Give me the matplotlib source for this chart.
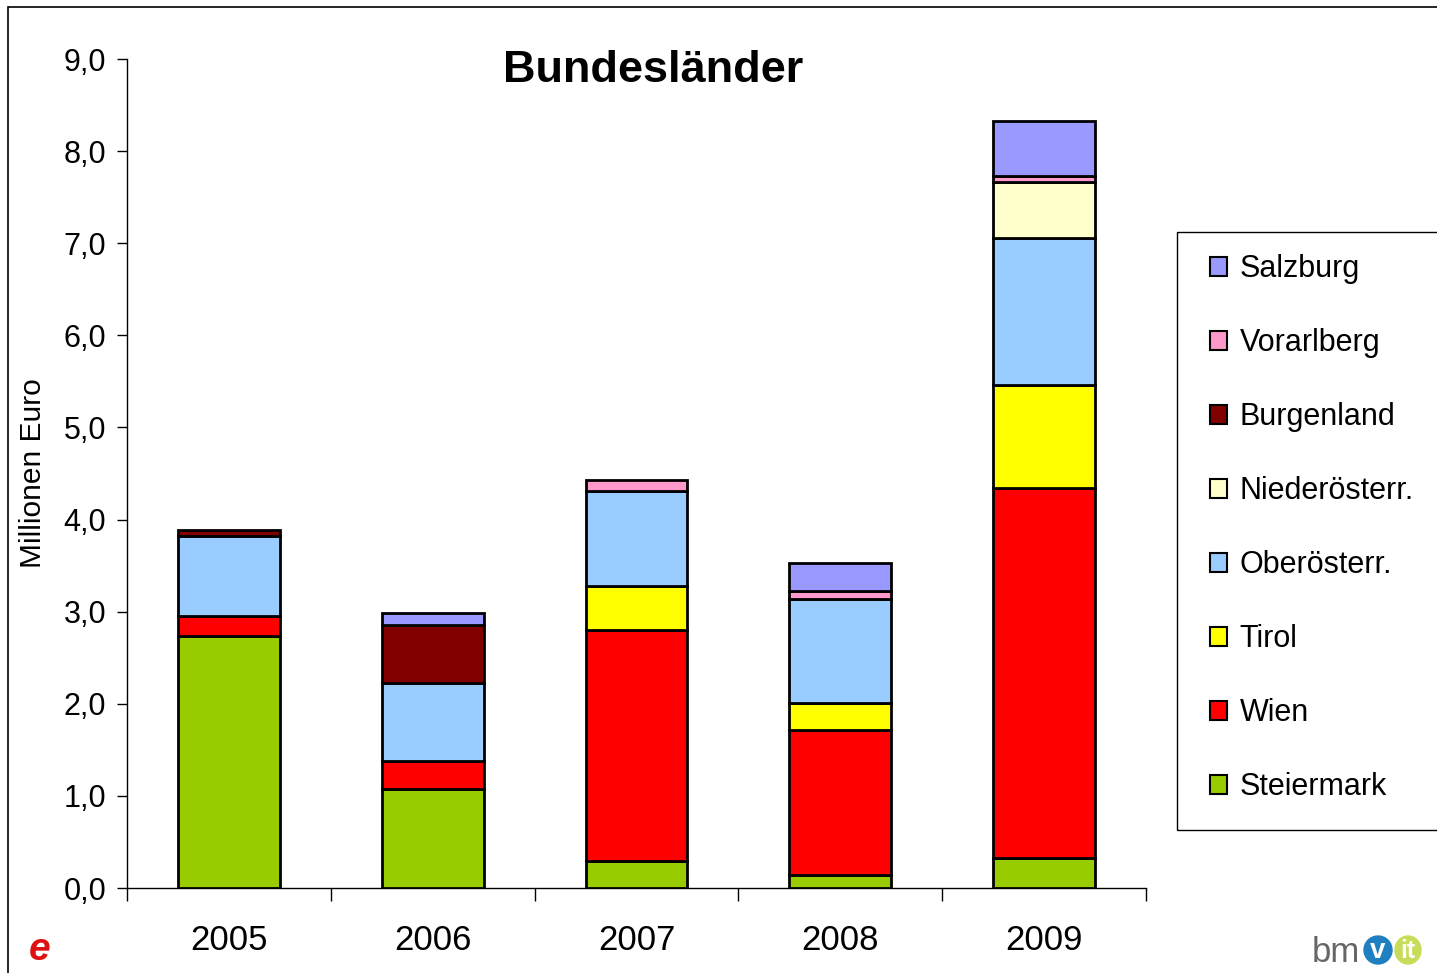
import matplotlib.pyplot as plt
from matplotlib.patches import Rectangle, Patch, Ellipse
import numpy as np

plt.rcParams['font.family'] = ['Liberation Sans', 'DejaVu Sans']

# --- data (Millionen Euro) ---
years = ['2005', '2006', '2007', '2008', '2009']
series = ['Steiermark', 'Wien', 'Tirol', 'Oberösterr.', 'Niederösterr.',
          'Burgenland', 'Vorarlberg', 'Salzburg']
steiermark = [2.74, 1.07, 0.29, 0.14, 0.33]
wien = [0.21, 0.31, 2.51, 1.58, 4.01]
tirol = [0.00, 0.00, 0.48, 0.29, 1.12]
oberoesterr = [0.87, 0.85, 1.03, 1.13, 1.60]
niederoesterr = [0.00, 0.00, 0.00, 0.00, 0.61]
burgenland = [0.07, 0.63, 0.00, 0.00, 0.00]
vorarlberg = [0.00, 0.00, 0.12, 0.08, 0.06]
salzburg = [0.00, 0.13, 0.00, 0.31, 0.60]
colors = ['#99CC00', '#FF0000', '#FFFF00', '#99CCFF', '#FFFFCC',
          '#800000', '#FF99CC', '#9999FF']

values = [steiermark, wien, tirol, oberoesterr, niederoesterr,
          burgenland, vorarlberg, salzburg]

fig = plt.figure(figsize=(14.37, 9.73), dpi=100)
ax = fig.add_axes([127 / 1437, 85 / 973, 1019 / 1437, 829 / 973])

x = np.arange(len(years))
bottom = np.zeros(len(years))
for name, vals, col in zip(series, values, colors):
    vals = np.array(vals)
    mask = vals > 0
    ax.bar(x[mask], vals[mask], width=0.5, bottom=bottom[mask], color=col,
           edgecolor='black', linewidth=2, label=name, zorder=3)
    bottom += vals

ax.set_xlim(-0.5, 4.5)
ax.set_ylim(0, 9)
ax.set_yticks(np.arange(0, 10, 1))
ax.set_yticklabels([f'{v:.1f}'.replace('.', ',') for v in np.arange(0, 10, 1)],
                   fontsize=22)
ax.set_xticks(np.arange(-0.5, 5, 1))
ax.set_xticklabels([])
ax.set_xticks(x, minor=True)
ax.set_xticklabels(years, minor=True, fontsize=25)
ax.tick_params(axis='x', which='minor', length=0, pad=26)
ax.tick_params(axis='x', which='major', length=9, width=1, direction='out')
ax.tick_params(axis='y', length=7, width=1, direction='out', pad=8)
ax.spines['top'].set_visible(False)
ax.spines['right'].set_visible(False)
ax.spines['left'].set_linewidth(1)
ax.spines['bottom'].set_linewidth(1)
ax.set_ylabel('Millionen Euro', fontsize=21.5, labelpad=12)

fig.text(653 / 1437, 1 - 71 / 973, 'Bundesländer', fontsize=32.5,
         fontweight='bold', ha='center', va='center')

# legend box (extends past the right edge like the original)
fig.add_artist(Rectangle((1177 / 1437, 1 - 830 / 973), 300 / 1437,
                         598 / 973, transform=fig.transFigure, fill=False,
                         edgecolor='black', linewidth=1))

# legend (reversed order, Salzburg on top)
handles = [Patch(facecolor=c, edgecolor='black', linewidth=1.5, label=n)
           for n, c in zip(series, colors)][::-1]
leg = fig.legend(handles=handles, loc='upper left',
                 bbox_to_anchor=(1189 / 1437, 1 - 233 / 973),
                 fontsize=22, frameon=False,
                 handlelength=0.55, handleheight=0.55,
                 handletextpad=0.4, labelspacing=1.44, borderpad=0.7,
                 borderaxespad=0)

# outer chart frame (left and top edges visible)
fig.add_artist(Rectangle((8 / 1437, -0.1), 1.2, 1 - 7 / 973 + 0.1,
                         transform=fig.transFigure, fill=False,
                         edgecolor='black', linewidth=1.2))

# logos as text
fig.text(40 / 1437, 1 - 950 / 973, 'e', color='#DD1111', fontsize=28,
         fontweight='bold', style='italic', ha='center', va='center')
fig.text(1312 / 1437, 1 - 953 / 973, 'bm', color='#666666', fontsize=25,
         ha='left', va='center')
fig.add_artist(Ellipse((1378 / 1437, 1 - 950 / 973), 28 / 1437, 28 / 973,
                       transform=fig.transFigure, color='#1F7FC0'))
fig.text(1378 / 1437, 1 - 951 / 973, 'v', color='white', fontsize=20,
         fontweight='bold', ha='center', va='center')
fig.add_artist(Ellipse((1408 / 1437, 1 - 950 / 973), 26 / 1437, 28 / 973,
                       transform=fig.transFigure, color='#C8DC5A'))
fig.text(1408 / 1437, 1 - 951 / 973, 'it', color='white', fontsize=18,
         fontweight='bold', ha='center', va='center')

fig.savefig('out.png', dpi=100)
